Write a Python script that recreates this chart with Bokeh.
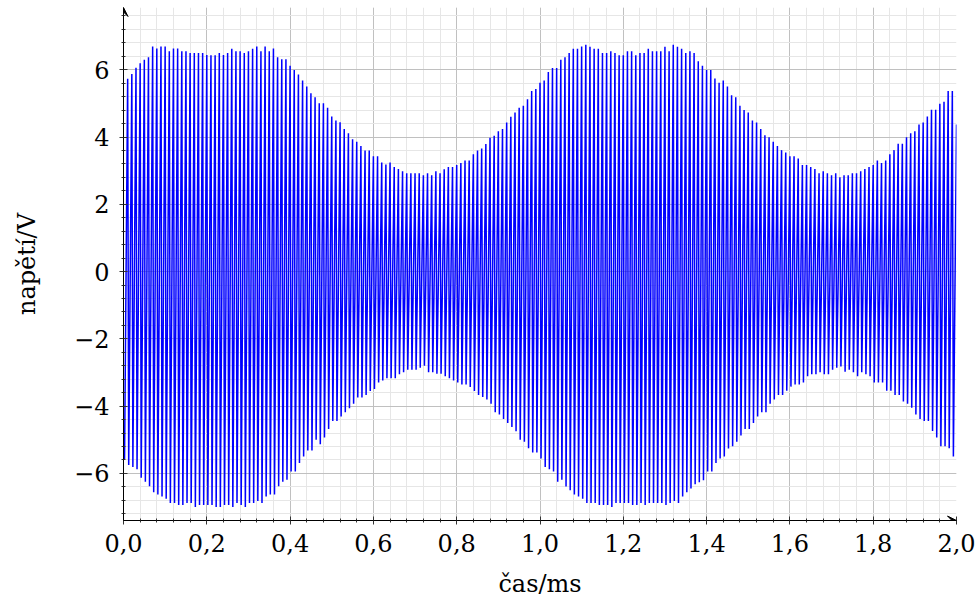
import numpy as np
from bokeh.plotting import figure
from bokeh.models import Range1d, SingleIntervalTicker, CustomJSTickFormatter, Arrow, VeeHead
from bokeh.embed import file_html
from bokeh.resources import INLINE

# Positive carrier peaks (V), one per 0.01 ms carrier period, t = 0.01 .. 2.00 ms
pos_peaks = [
    5.73, 5.87, 6.06, 6.19, 6.30, 6.37, 6.69, 6.63, 6.69, 6.69,
    6.55, 6.63, 6.63, 6.55, 6.55, 6.50, 6.50, 6.50, 6.50, 6.44,
    6.43, 6.43, 6.50, 6.44, 6.50, 6.62, 6.55, 6.55, 6.50, 6.55,
    6.62, 6.69, 6.55, 6.69, 6.55, 6.63, 6.37, 6.31, 6.31, 6.12,
    5.99, 5.86, 5.68, 5.50, 5.30, 5.18, 5.00, 5.00, 4.87, 4.61,
    4.49, 4.44, 4.24, 4.11, 3.93, 3.86, 3.73, 3.60, 3.60, 3.43,
    3.43, 3.24, 3.18, 3.24, 3.11, 3.05, 2.98, 2.92, 2.92, 2.92,
    2.92, 2.86, 2.92, 2.86, 2.98, 2.92, 3.04, 3.11, 3.11, 3.17,
    3.23, 3.30, 3.30, 3.49, 3.60, 3.66, 3.79, 3.98, 4.04, 4.17,
    4.24, 4.43, 4.60, 4.73, 4.87, 4.93, 5.12, 5.37, 5.43, 5.61,
    5.68, 5.93, 6.05, 6.05, 6.30, 6.37, 6.50, 6.62, 6.62, 6.69,
    6.74, 6.68, 6.62, 6.62, 6.50, 6.50, 6.55, 6.50, 6.43, 6.43,
    6.55, 6.55, 6.43, 6.50, 6.50, 6.62, 6.55, 6.55, 6.55, 6.68,
    6.55, 6.74, 6.68, 6.62, 6.50, 6.55, 6.50, 6.25, 6.12, 5.99,
    5.99, 5.74, 5.61, 5.68, 5.50, 5.24, 5.18, 4.93, 4.80, 4.73,
    4.49, 4.43, 4.24, 4.05, 3.99, 3.86, 3.73, 3.61, 3.54, 3.43,
    3.43, 3.36, 3.17, 3.17, 3.11, 3.05, 2.92, 2.98, 2.92, 2.86,
    2.92, 2.80, 2.86, 2.86, 2.92, 2.92, 2.98, 3.05, 3.11, 3.17,
    3.30, 3.23, 3.30, 3.49, 3.61, 3.80, 3.80, 3.99, 4.11, 4.17,
    4.37, 4.43, 4.61, 4.81, 4.81, 4.99, 5.05, 5.37, 5.37, 4.37,
]

# Negative carrier peaks (V), one per period, starting at t = 0.0025 ms
neg_peaks = [
    -5.57, -5.75, -5.81, -5.88, -6.13, -6.25, -6.38, -6.56, -6.63, -6.69,
    -6.75, -6.88, -6.88, -6.94, -6.94, -6.88, -6.88, -7.00, -6.94, -6.94,
    -6.94, -6.94, -7.00, -7.00, -6.94, -6.94, -7.00, -6.88, -6.94, -7.00,
    -6.88, -6.88, -6.82, -6.88, -6.69, -6.63, -6.63, -6.38, -6.25, -6.19,
    -5.94, -5.94, -5.69, -5.50, -5.32, -5.32, -5.00, -5.13, -4.93, -4.68,
    -4.44, -4.44, -4.31, -4.18, -4.06, -3.93, -3.74, -3.74, -3.67, -3.55,
    -3.49, -3.30, -3.24, -3.17, -3.17, -3.17, -3.05, -2.99, -2.92, -2.92,
    -2.92, -2.86, -2.80, -2.99, -2.99, -3.04, -3.04, -3.11, -3.17, -3.24,
    -3.30, -3.36, -3.36, -3.43, -3.55, -3.67, -3.73, -3.80, -3.93, -4.18,
    -4.25, -4.38, -4.50, -4.62, -4.75, -5.00, -5.06, -5.25, -5.38, -5.38,
    -5.56, -5.81, -5.88, -5.94, -6.25, -6.19, -6.39, -6.50, -6.63, -6.69,
    -6.75, -6.88, -6.88, -6.88, -6.94, -6.94, -6.94, -7.00, -6.88, -6.88,
    -6.88, -6.88, -6.94, -6.94, -6.88, -6.94, -6.88, -6.88, -6.88, -6.88,
    -6.94, -6.88, -6.82, -6.88, -6.69, -6.56, -6.45, -6.32, -6.26, -6.20,
    -5.94, -5.94, -5.69, -5.56, -5.50, -5.26, -5.19, -5.06, -4.87, -4.68,
    -4.68, -4.50, -4.31, -4.18, -4.18, -3.93, -3.80, -3.67, -3.67, -3.54,
    -3.42, -3.36, -3.36, -3.30, -3.11, -3.05, -3.05, -2.99, -3.05, -3.05,
    -2.92, -2.86, -2.82, -2.98, -2.92, -2.99, -3.11, -2.99, -3.05, -3.11,
    -3.30, -3.30, -3.30, -3.54, -3.54, -3.67, -3.67, -3.86, -3.93, -4.05,
    -4.25, -4.38, -4.44, -4.44, -4.74, -4.93, -5.19, -5.19, -5.25, -5.50,
]

carrier_period = 0.01  # ms
neg_offset = 0.0025    # ms

t_pos = np.arange(1, len(pos_peaks) + 1) * carrier_period
t_neg = np.arange(len(neg_peaks)) * carrier_period + neg_offset

# interleave troughs and crests into one time series
n = len(pos_peaks) + len(neg_peaks)
t = np.empty(n)
u = np.empty(n)
t[0::2] = t_neg
t[1::2] = t_pos
u[0::2] = neg_peaks
u[1::2] = pos_peaks

x0, x1 = 0.0, 2.0
y0, y1 = -7.4, 7.85

p = figure(
    width=979, height=600,
    x_range=Range1d(x0, x1), y_range=Range1d(y0, y1),
    output_backend="svg", toolbar_location=None,
    min_border_left=123, min_border_right=23,
    min_border_top=7, min_border_bottom=79,
)
p.outline_line_color = None
p.background_fill_color = "white"

xt = SingleIntervalTicker(interval=0.2, num_minor_ticks=5)
yt = SingleIntervalTicker(interval=2, num_minor_ticks=5)
p.xaxis.ticker = xt
p.yaxis.ticker = yt
p.xgrid.ticker = xt
p.ygrid.ticker = yt

for g in (p.xgrid, p.ygrid):
    g.grid_line_color = "#c0c0c0"
    g.grid_line_width = 1
    g.minor_grid_line_color = "#e6e6e6"
    g.minor_grid_line_width = 1

p.xaxis.formatter = CustomJSTickFormatter(code="return tick.toFixed(1).replace('.', ',');")
p.yaxis.formatter = CustomJSTickFormatter(
    code="var s = Math.abs(tick).toFixed(0); return tick < -0.01 ? '\u2212' + s : s;")

for ax in (p.xaxis, p.yaxis):
    ax.axis_line_color = "black"
    ax.axis_line_width = 1
    ax.major_tick_in = 4
    ax.major_tick_out = 4
    ax.minor_tick_in = 2
    ax.minor_tick_out = 2
    ax.major_tick_line_color = "#333333"
    ax.minor_tick_line_color = "#333333"
    ax.major_label_text_font = "DejaVu Serif"
    ax.major_label_text_font_size = "24px"
    ax.major_label_text_color = "black"
    ax.axis_label_text_font = "DejaVu Serif"
    ax.axis_label_text_font_size = "24px"
    ax.axis_label_text_font_style = "normal"
    ax.axis_label_text_color = "black"

p.xaxis.axis_label = "čas/ms"
p.yaxis.axis_label = "napětí/V"
p.xaxis.major_label_standoff = 9
p.yaxis.major_label_standoff = 10
p.xaxis.axis_label_standoff = 15
p.yaxis.axis_label_standoff = 30

p.line(t, u, line_color="#0000ff", line_width=1.5)

head = dict(size=9, fill_color="black", line_color="black", line_width=1)
p.add_layout(Arrow(end=VeeHead(**head), x_start=x0, y_start=y0, x_end=x1, y_end=y0,
                   line_color="black", line_width=1))
p.add_layout(Arrow(end=VeeHead(**head), x_start=x0, y_start=y0, x_end=x0, y_end=y1,
                   line_color="black", line_width=1))

open("out.html", "w").write(file_html(p, INLINE))
